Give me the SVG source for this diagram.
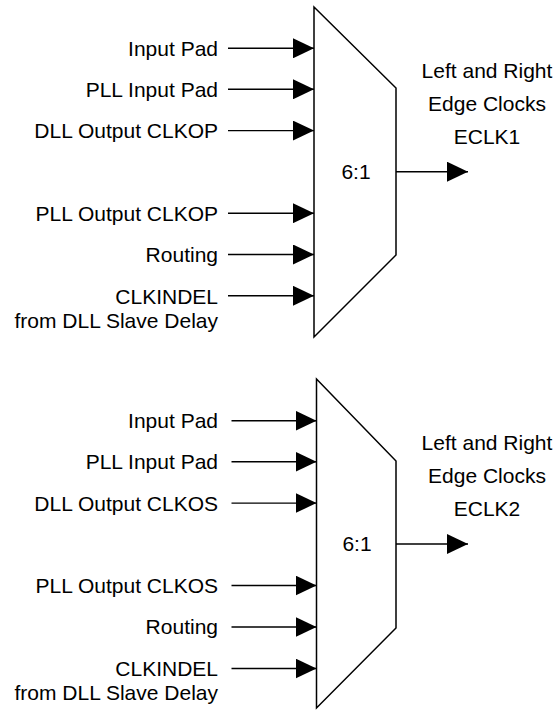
<svg xmlns="http://www.w3.org/2000/svg" width="555" height="711" viewBox="0 0 555 711">
<defs>
<style>
text{font-family:"Liberation Sans",Arial,sans-serif;font-size:21px;fill:#000}
.l{text-anchor:end}
.c{text-anchor:middle}
.mux{fill:#fff;stroke:#000;stroke-width:1.5;stroke-linejoin:miter}
.w{stroke:#000;stroke-width:1.4;fill:none;marker-end:url(#ah)}
</style>
<marker id="ah" markerUnits="userSpaceOnUse" markerWidth="21" markerHeight="20" refX="21" refY="10" orient="auto" viewBox="0 0 21 20">
<path d="M0,0 L21,10 L0,20 Z" fill="#000"/>
</marker>
</defs>
<g id="mux1">
<polygon class="mux" points="314,7 396,88 396,255 314,337"/>
<text class="c" x="356" y="179">6:1</text>
</g>
<g id="mux1-labels">
<text class="l" x="218" y="56">Input Pad</text>
<text class="l" x="218" y="97">PLL Input Pad</text>
<text class="l" x="218" y="138">DLL Output CLKOP</text>
<text class="l" x="218" y="221">PLL Output CLKOP</text>
<text class="l" x="218" y="262">Routing</text>
<text class="l" x="218" y="304">CLKINDEL</text>
<text class="l" x="218" y="328">from DLL Slave Delay</text>
<text class="c" x="487" y="78">Left and Right</text>
<text class="c" x="487" y="111">Edge Clocks</text>
<text class="c" x="487" y="144">ECLK1</text>
</g>
<g id="mux2">
<polygon class="mux" points="316.5,379 396,461 396,628 316.5,708"/>
<text class="c" x="357" y="551">6:1</text>
</g>
<g id="mux2-labels">
<text class="l" x="218" y="428">Input Pad</text>
<text class="l" x="218" y="469">PLL Input Pad</text>
<text class="l" x="218" y="511">DLL Output CLKOS</text>
<text class="l" x="218" y="593">PLL Output CLKOS</text>
<text class="l" x="218" y="634">Routing</text>
<text class="l" x="218" y="676">CLKINDEL</text>
<text class="l" x="218" y="700">from DLL Slave Delay</text>
<text class="c" x="487" y="450">Left and Right</text>
<text class="c" x="487" y="483">Edge Clocks</text>
<text class="c" x="487" y="516">ECLK2</text>
</g>
<g id="connectors">
<line class="w" x1="228" y1="48.3" x2="314" y2="48.3"/>
<line class="w" x1="228" y1="89.3" x2="314" y2="89.3"/>
<line class="w" x1="228" y1="130.6" x2="314" y2="130.6"/>
<line class="w" x1="228" y1="213.2" x2="314" y2="213.2"/>
<line class="w" x1="228" y1="254.5" x2="314" y2="254.5"/>
<line class="w" x1="228" y1="295.8" x2="314" y2="295.8"/>
<line class="w" x1="396" y1="171.7" x2="468" y2="171.7"/>
<line class="w" x1="231.5" y1="420.7" x2="316.5" y2="420.7"/>
<line class="w" x1="231.5" y1="461.8" x2="316.5" y2="461.8"/>
<line class="w" x1="231.5" y1="503.1" x2="316.5" y2="503.1"/>
<line class="w" x1="231.5" y1="585.5" x2="316.5" y2="585.5"/>
<line class="w" x1="231.5" y1="627" x2="316.5" y2="627"/>
<line class="w" x1="231.5" y1="668.5" x2="316.5" y2="668.5"/>
<line class="w" x1="396" y1="544" x2="468" y2="544"/>
</g>
</svg>
